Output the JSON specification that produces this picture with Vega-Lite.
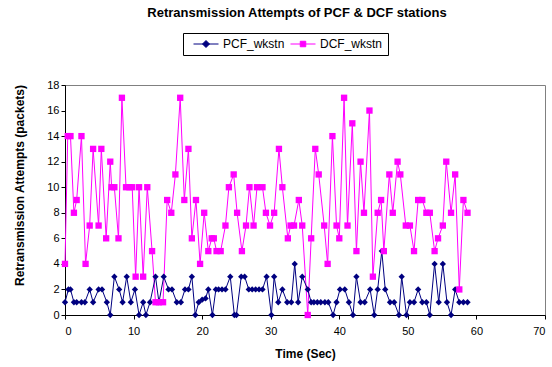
{
  "$schema": "https://vega.github.io/schema/vega-lite/v6.json",
  "width": 480,
  "height": 230,
  "autosize": "none",
  "padding": {"left": 65, "top": 85, "right": 7, "bottom": 52},
  "background": "white",
  "title": {"text": "Retransmission Attempts of PCF & DCF stations", "font": "Liberation Sans", "fontSize": 13, "fontWeight": "bold", "color": "black", "anchor": "middle", "offset": 13, "dx": -8},
  "config": {
    "view": {"stroke": "#808080", "strokeWidth": 1},
    "axis": {"grid": false, "domainColor": "black", "tickColor": "black", "labelFont": "Liberation Sans", "labelFontSize": 11, "labelColor": "black", "titleFont": "Liberation Sans", "titleFontSize": 12, "titleFontWeight": "bold", "titleColor": "black", "tickSize": 4}
  },
  "datasets": {
    "pts": [
      {"t":0,"s":"DCF_wkstn","v":4},{"t":0.4,"s":"DCF_wkstn","v":14},{"t":0.8,"s":"DCF_wkstn","v":14},{"t":1.3,"s":"DCF_wkstn","v":8},{"t":1.7,"s":"DCF_wkstn","v":9},{"t":2.4,"s":"DCF_wkstn","v":14},{"t":3.0,"s":"DCF_wkstn","v":4},{"t":3.6,"s":"DCF_wkstn","v":7},{"t":4.1,"s":"DCF_wkstn","v":13},{"t":4.9,"s":"DCF_wkstn","v":7},{"t":5.3,"s":"DCF_wkstn","v":13},{"t":6.0,"s":"DCF_wkstn","v":6},{"t":6.6,"s":"DCF_wkstn","v":12},{"t":6.8,"s":"DCF_wkstn","v":10},{"t":7.2,"s":"DCF_wkstn","v":10},{"t":7.8,"s":"DCF_wkstn","v":6},{"t":8.3,"s":"DCF_wkstn","v":17},{"t":8.9,"s":"DCF_wkstn","v":10},{"t":9.4,"s":"DCF_wkstn","v":10},{"t":9.8,"s":"DCF_wkstn","v":10},{"t":10.3,"s":"DCF_wkstn","v":3},{"t":10.8,"s":"DCF_wkstn","v":10},{"t":11.4,"s":"DCF_wkstn","v":3},{"t":12.0,"s":"DCF_wkstn","v":10},{"t":12.7,"s":"DCF_wkstn","v":5},{"t":13.2,"s":"DCF_wkstn","v":1},{"t":13.7,"s":"DCF_wkstn","v":1},{"t":14.3,"s":"DCF_wkstn","v":1},{"t":14.9,"s":"DCF_wkstn","v":9},{"t":15.5,"s":"DCF_wkstn","v":8},{"t":16.1,"s":"DCF_wkstn","v":11},{"t":16.8,"s":"DCF_wkstn","v":17},{"t":17.4,"s":"DCF_wkstn","v":9},{"t":18.0,"s":"DCF_wkstn","v":13},{"t":18.5,"s":"DCF_wkstn","v":6},{"t":19.1,"s":"DCF_wkstn","v":9},{"t":19.7,"s":"DCF_wkstn","v":4},{"t":20.3,"s":"DCF_wkstn","v":8},{"t":20.9,"s":"DCF_wkstn","v":5},{"t":21.4,"s":"DCF_wkstn","v":6},{"t":21.7,"s":"DCF_wkstn","v":6},{"t":22.1,"s":"DCF_wkstn","v":5},{"t":22.7,"s":"DCF_wkstn","v":5},{"t":23.4,"s":"DCF_wkstn","v":7},{"t":23.9,"s":"DCF_wkstn","v":10},{"t":24.6,"s":"DCF_wkstn","v":11},{"t":25.1,"s":"DCF_wkstn","v":8},{"t":25.8,"s":"DCF_wkstn","v":5},{"t":26.4,"s":"DCF_wkstn","v":7},{"t":26.9,"s":"DCF_wkstn","v":10},{"t":27.5,"s":"DCF_wkstn","v":7},{"t":28.0,"s":"DCF_wkstn","v":10},{"t":28.8,"s":"DCF_wkstn","v":10},{"t":29.3,"s":"DCF_wkstn","v":8},{"t":29.9,"s":"DCF_wkstn","v":7},{"t":30.5,"s":"DCF_wkstn","v":8},{"t":31.2,"s":"DCF_wkstn","v":13},{"t":31.7,"s":"DCF_wkstn","v":10},{"t":32.5,"s":"DCF_wkstn","v":6},{"t":32.9,"s":"DCF_wkstn","v":7},{"t":33.4,"s":"DCF_wkstn","v":7},{"t":34.1,"s":"DCF_wkstn","v":9},{"t":34.6,"s":"DCF_wkstn","v":7},{"t":35.4,"s":"DCF_wkstn","v":0},{"t":35.9,"s":"DCF_wkstn","v":6},{"t":36.5,"s":"DCF_wkstn","v":13},{"t":37.0,"s":"DCF_wkstn","v":11},{"t":37.8,"s":"DCF_wkstn","v":7},{"t":38.3,"s":"DCF_wkstn","v":4},{"t":39.0,"s":"DCF_wkstn","v":14},{"t":39.6,"s":"DCF_wkstn","v":7},{"t":40.0,"s":"DCF_wkstn","v":6},{"t":40.7,"s":"DCF_wkstn","v":17},{"t":41.2,"s":"DCF_wkstn","v":7},{"t":41.9,"s":"DCF_wkstn","v":15},{"t":42.5,"s":"DCF_wkstn","v":5},{"t":43.1,"s":"DCF_wkstn","v":12},{"t":43.6,"s":"DCF_wkstn","v":8},{"t":44.4,"s":"DCF_wkstn","v":16},{"t":44.9,"s":"DCF_wkstn","v":3},{"t":45.6,"s":"DCF_wkstn","v":8},{"t":46.1,"s":"DCF_wkstn","v":9},{"t":46.5,"s":"DCF_wkstn","v":5},{"t":47.3,"s":"DCF_wkstn","v":11},{"t":47.8,"s":"DCF_wkstn","v":8},{"t":48.5,"s":"DCF_wkstn","v":12},{"t":48.9,"s":"DCF_wkstn","v":11},{"t":49.7,"s":"DCF_wkstn","v":7},{"t":50.3,"s":"DCF_wkstn","v":7},{"t":50.9,"s":"DCF_wkstn","v":5},{"t":51.5,"s":"DCF_wkstn","v":9},{"t":52.1,"s":"DCF_wkstn","v":9},{"t":52.7,"s":"DCF_wkstn","v":8},{"t":53.2,"s":"DCF_wkstn","v":8},{"t":53.9,"s":"DCF_wkstn","v":5},{"t":54.4,"s":"DCF_wkstn","v":6},{"t":55.1,"s":"DCF_wkstn","v":7},{"t":55.6,"s":"DCF_wkstn","v":12},{"t":56.3,"s":"DCF_wkstn","v":8},{"t":56.9,"s":"DCF_wkstn","v":11},{"t":57.5,"s":"DCF_wkstn","v":2},{"t":58.1,"s":"DCF_wkstn","v":9},{"t":58.7,"s":"DCF_wkstn","v":8},
      {"t":0,"s":"PCF_wkstn","v":1},{"t":0.5,"s":"PCF_wkstn","v":2},{"t":0.8,"s":"PCF_wkstn","v":2},{"t":1.3,"s":"PCF_wkstn","v":1},{"t":1.7,"s":"PCF_wkstn","v":1},{"t":2.4,"s":"PCF_wkstn","v":1},{"t":2.9,"s":"PCF_wkstn","v":1},{"t":3.6,"s":"PCF_wkstn","v":2},{"t":4.1,"s":"PCF_wkstn","v":1},{"t":4.9,"s":"PCF_wkstn","v":2},{"t":5.4,"s":"PCF_wkstn","v":2},{"t":6.1,"s":"PCF_wkstn","v":1},{"t":6.6,"s":"PCF_wkstn","v":0},{"t":7.2,"s":"PCF_wkstn","v":3},{"t":7.9,"s":"PCF_wkstn","v":2},{"t":8.4,"s":"PCF_wkstn","v":1},{"t":9.0,"s":"PCF_wkstn","v":3},{"t":9.6,"s":"PCF_wkstn","v":1},{"t":10.2,"s":"PCF_wkstn","v":2},{"t":10.8,"s":"PCF_wkstn","v":0},{"t":11.4,"s":"PCF_wkstn","v":1},{"t":11.8,"s":"PCF_wkstn","v":0},{"t":12.4,"s":"PCF_wkstn","v":1},{"t":13.2,"s":"PCF_wkstn","v":3},{"t":13.7,"s":"PCF_wkstn","v":1},{"t":14.4,"s":"PCF_wkstn","v":3},{"t":15.1,"s":"PCF_wkstn","v":2},{"t":15.6,"s":"PCF_wkstn","v":2},{"t":16.3,"s":"PCF_wkstn","v":1},{"t":16.9,"s":"PCF_wkstn","v":1},{"t":17.5,"s":"PCF_wkstn","v":2},{"t":18.0,"s":"PCF_wkstn","v":2},{"t":18.5,"s":"PCF_wkstn","v":3},{"t":19.0,"s":"PCF_wkstn","v":0},{"t":19.5,"s":"PCF_wkstn","v":1},{"t":20.0,"s":"PCF_wkstn","v":1.2},{"t":20.5,"s":"PCF_wkstn","v":1.3},{"t":20.9,"s":"PCF_wkstn","v":2},{"t":21.5,"s":"PCF_wkstn","v":0},{"t":22.0,"s":"PCF_wkstn","v":2},{"t":22.4,"s":"PCF_wkstn","v":2},{"t":22.9,"s":"PCF_wkstn","v":2},{"t":23.4,"s":"PCF_wkstn","v":2},{"t":24.1,"s":"PCF_wkstn","v":3},{"t":24.7,"s":"PCF_wkstn","v":0},{"t":25.0,"s":"PCF_wkstn","v":0},{"t":25.7,"s":"PCF_wkstn","v":3},{"t":26.2,"s":"PCF_wkstn","v":3},{"t":26.8,"s":"PCF_wkstn","v":2},{"t":27.3,"s":"PCF_wkstn","v":2},{"t":27.8,"s":"PCF_wkstn","v":2},{"t":28.3,"s":"PCF_wkstn","v":2},{"t":28.8,"s":"PCF_wkstn","v":2},{"t":29.4,"s":"PCF_wkstn","v":3},{"t":30.1,"s":"PCF_wkstn","v":0},{"t":30.5,"s":"PCF_wkstn","v":3},{"t":31.1,"s":"PCF_wkstn","v":1},{"t":31.7,"s":"PCF_wkstn","v":2},{"t":32.4,"s":"PCF_wkstn","v":1},{"t":33.0,"s":"PCF_wkstn","v":1},{"t":33.5,"s":"PCF_wkstn","v":4},{"t":34.0,"s":"PCF_wkstn","v":1},{"t":34.6,"s":"PCF_wkstn","v":3},{"t":35.4,"s":"PCF_wkstn","v":2},{"t":35.9,"s":"PCF_wkstn","v":1},{"t":36.3,"s":"PCF_wkstn","v":1},{"t":36.8,"s":"PCF_wkstn","v":1},{"t":37.3,"s":"PCF_wkstn","v":1},{"t":37.9,"s":"PCF_wkstn","v":1},{"t":38.4,"s":"PCF_wkstn","v":1},{"t":39.1,"s":"PCF_wkstn","v":0},{"t":39.6,"s":"PCF_wkstn","v":1},{"t":40.1,"s":"PCF_wkstn","v":2},{"t":40.8,"s":"PCF_wkstn","v":2},{"t":41.4,"s":"PCF_wkstn","v":1},{"t":42.0,"s":"PCF_wkstn","v":0},{"t":42.5,"s":"PCF_wkstn","v":3},{"t":43.1,"s":"PCF_wkstn","v":1},{"t":43.7,"s":"PCF_wkstn","v":1},{"t":44.5,"s":"PCF_wkstn","v":2},{"t":45.1,"s":"PCF_wkstn","v":0},{"t":45.6,"s":"PCF_wkstn","v":2},{"t":46.2,"s":"PCF_wkstn","v":5},{"t":46.7,"s":"PCF_wkstn","v":2},{"t":47.4,"s":"PCF_wkstn","v":1},{"t":48.0,"s":"PCF_wkstn","v":1},{"t":48.7,"s":"PCF_wkstn","v":0},{"t":49.1,"s":"PCF_wkstn","v":3},{"t":49.8,"s":"PCF_wkstn","v":0},{"t":50.3,"s":"PCF_wkstn","v":1},{"t":50.9,"s":"PCF_wkstn","v":1},{"t":51.5,"s":"PCF_wkstn","v":2},{"t":52.1,"s":"PCF_wkstn","v":1},{"t":52.7,"s":"PCF_wkstn","v":1},{"t":53.2,"s":"PCF_wkstn","v":0},{"t":53.9,"s":"PCF_wkstn","v":4},{"t":54.5,"s":"PCF_wkstn","v":1},{"t":55.1,"s":"PCF_wkstn","v":4},{"t":55.7,"s":"PCF_wkstn","v":1},{"t":56.3,"s":"PCF_wkstn","v":0},{"t":56.9,"s":"PCF_wkstn","v":2},{"t":57.5,"s":"PCF_wkstn","v":1},{"t":58.1,"s":"PCF_wkstn","v":1},{"t":58.7,"s":"PCF_wkstn","v":1}
    ]
  },
  "data": {"name": "pts"},
  "encoding": {
    "x": {"field": "t", "type": "quantitative", "title": "Time (Sec)", "scale": {"domain": [0, 70], "nice": false}, "axis": {"values": [0,10,20,30,40,50,60,70], "labelPadding": 6, "titlePadding": 12}},
    "y": {"field": "v", "type": "quantitative", "title": "Retransmission Attempts (packets)", "scale": {"domain": [0, 18], "nice": false}, "axis": {"values": [0,2,4,6,8,10,12,14,16,18], "titleX": -39, "titleY": 100}},
    "color": {"field": "s", "type": "nominal", "scale": {"domain": ["PCF_wkstn", "DCF_wkstn"], "range": ["#000080", "#FF00FF"]},
      "legend": {"orient": "none", "legendX": 118, "legendY": -52, "direction": "horizontal", "title": null, "strokeColor": "black", "fillColor": "white", "padding": 5, "labelFont": "Liberation Sans", "labelFontSize": 12, "labelColor": "black", "symbolSize": 100, "symbolOffset": 12, "labelOffset": 11, "columnPadding": 0,
        "encode": {"symbols": {"update": {
          "shape": {"signal": "datum.value === 'PCF_wkstn' ? 'M-2.5,0H2.5M0,-0.7L0.7,0L0,0.7L-0.7,0Z' : 'M-2.5,0H2.5M-0.55,-0.55H0.55V0.55H-0.55Z'"},
          "stroke": {"signal": "datum.value === 'PCF_wkstn' ? '#000080' : '#FF00FF'"},
          "fill": {"signal": "datum.value === 'PCF_wkstn' ? '#000080' : '#FF00FF'"},
          "strokeWidth": {"value": 1}}}}}}
  },
  "layer": [
    {
      "mark": {"type": "line", "strokeWidth": 1}
    },
    {
      "transform": [{"filter": "datum.s === 'PCF_wkstn'"}],
      "mark": {"type": "point", "shape": "diamond", "filled": true, "opacity": 1, "size": 40}
    },
    {
      "transform": [{"filter": "datum.s === 'DCF_wkstn'"}],
      "mark": {"type": "point", "shape": "square", "filled": true, "opacity": 1, "size": 40}
    }
  ]
}
